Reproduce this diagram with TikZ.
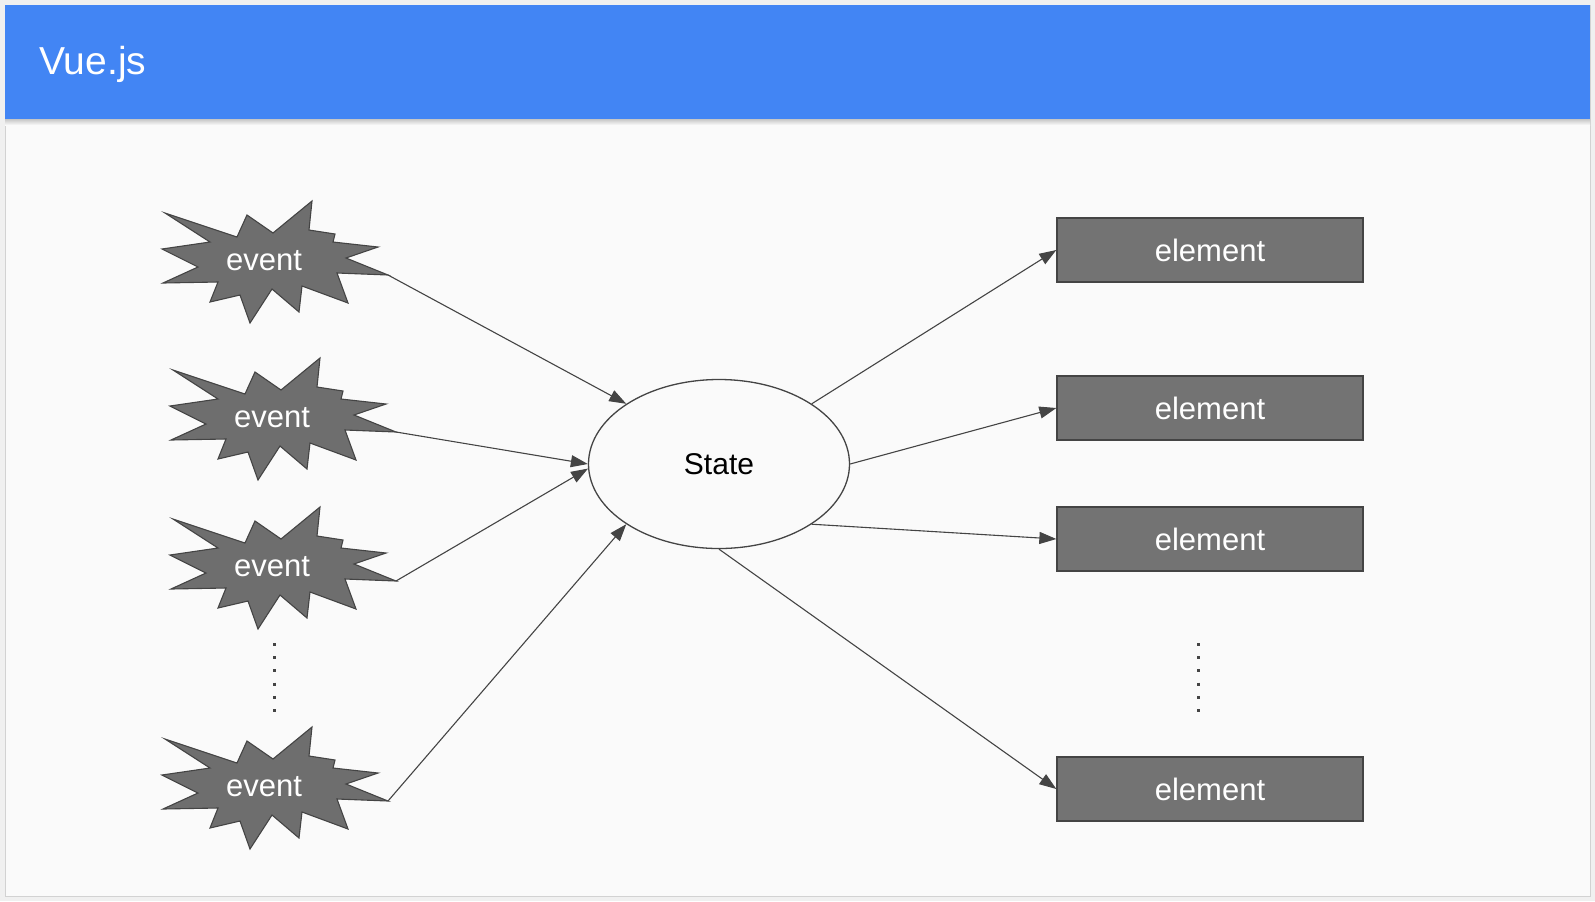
\documentclass[tikz,border=0pt]{standalone}
\usepackage{fontspec}
\setmainfont{Liberation Sans}
\usetikzlibrary{shapes.geometric, arrows.meta}

\definecolor{vueblue}{HTML}{4285F4}
\definecolor{cardbg}{HTML}{FAFAFA}
\definecolor{pagebg}{HTML}{F0F0F0}
\definecolor{boxgray}{HTML}{737373}
\definecolor{stargray}{HTML}{6E6E6E}
\definecolor{linegray}{HTML}{444444}

\tikzset{
    eventtext/.style={text=white, font=\fontsize{15.5}{18}\selectfont, anchor=base, inner sep=0pt},
    starline/.style={draw=linegray, fill=stargray, line width=0.55pt},
    eventstar/.pic={
        \draw[starline] (-99,-47) -- (-27,-23) -- (-17,-45) -- (9,-27) -- (48,-59) -- (45,-30)
            -- (71,-26) -- (69,-18) -- (114,-13) -- (82,-2) -- (124,15) -- (73,13)
            -- (84,43) -- (38,26) -- (35,52) -- (8,29) -- (-14,63) -- (-24,35)
            -- (-54,42) -- (-46,22) -- (-101,23) -- (-66,7) -- (-102,-11) -- (-54,-18) -- cycle;
        \coordinate (-tip) at (124,15);
        \node[eventtext] (-label) at (0,10) {event};
    },
    elembox/.style={draw=linegray, fill=boxgray, line width=0.65pt, minimum width=153pt,
        minimum height=32pt, inner sep=0pt, text=white, font=\fontsize{15.5}{18}\selectfont},
    statenode/.style={ellipse, draw=linegray, fill=cardbg, line width=0.65pt, minimum width=130.5pt,
        minimum height=84.5pt, inner sep=0pt, font=\fontsize{15}{18}\selectfont},
    flow/.style={-{Triangle[length=8.5pt,width=6pt]}, draw=linegray, line width=0.55pt},
    vdots/.style={draw=linegray, line width=1.5pt, dash pattern=on 1.5pt off 5.1pt}
}

\begin{document}
\begin{tikzpicture}[x=0.5pt, y=-0.5pt]
    % Draw the page and the card
    \fill[pagebg] (0,0) rectangle (1595,901);
    \useasboundingbox (0,0) rectangle (1595,901);
    \draw[gray!35, fill=cardbg, line width=0.5pt] (5,5) rectangle (1590,896);

    % Draw the header bar
    \fill[vueblue] (5,5) rectangle (1590,119);
    \shade[top color=gray!45, bottom color=cardbg] (5,119) rectangle (1590,125);
    \node[anchor=base west, text=white, font=\fontsize{19.5}{24}\selectfont, inner sep=0pt] (title) at (39,74) {Vue.js};

    % Draw the state in the middle
    \node[statenode] (state) at (719,464) {State};

    % Draw the events on the left
    \pic (ev1) at (264,260) {eventstar};
    \pic (ev2) at (272,417) {eventstar};
    \pic (ev3) at (272,566) {eventstar};
    \pic (ev4) at (264,786) {eventstar};

    % Draw the elements on the right
    \node[elembox] (el1) at (1210,250) {element};
    \node[elembox] (el2) at (1210,408) {element};
    \node[elembox] (el3) at (1210,539) {element};
    \node[elembox] (el4) at (1210,789) {element};

    % Add the dots between the last ones
    \coordinate (ldots) at (274,643);
    \coordinate (rdots) at (1198,643);
    \draw[vdots] (ldots) -- ++(0,69);
    \draw[vdots] (rdots) -- ++(0,69);

    % Draw the arrows into the state
    \draw[flow] (ev1-tip) -- (state.147);
    \draw[flow] (ev2-tip) -- (state.180);
    \draw[flow] (ev3-tip) -- (state.182);
    \draw[flow] (ev4-tip) -- (state.213);

    % Draw the arrows out of the state
    \draw[flow] (state.33) -- (el1.west);
    \draw[flow] (state.east) -- (el2.west);
    \draw[flow] (state.-33) -- (el3.west);
    \draw[flow] (state.south) -- (el4.west);
\end{tikzpicture}
\end{document}
